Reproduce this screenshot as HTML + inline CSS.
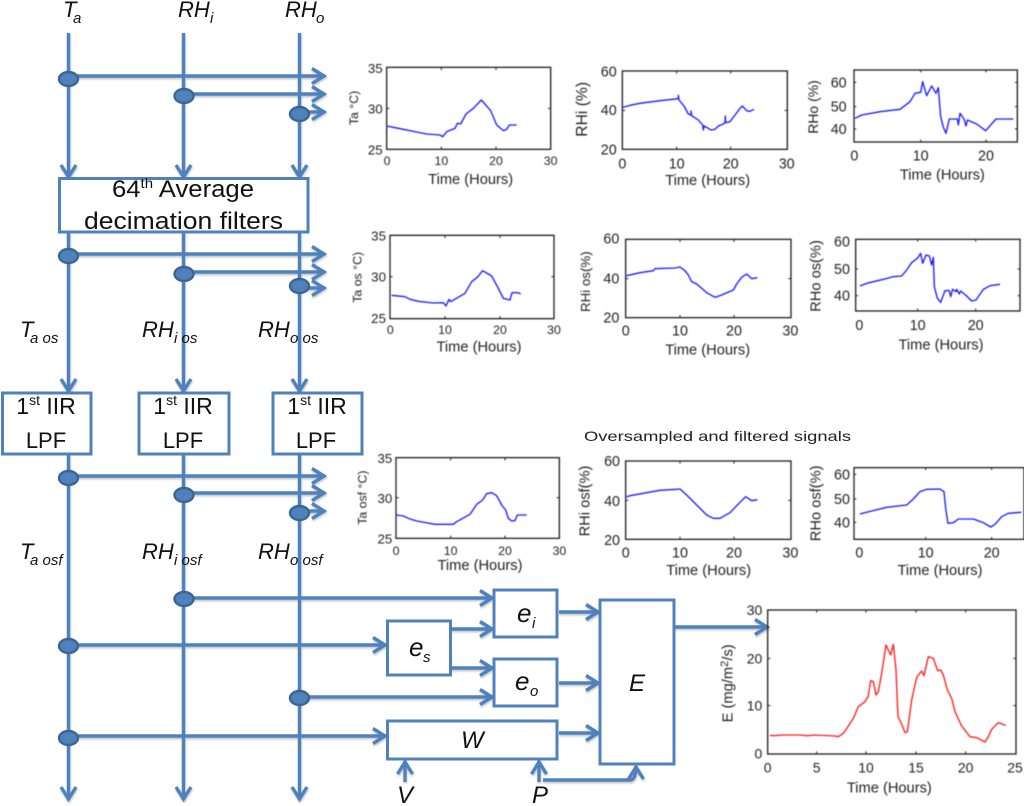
<!DOCTYPE html>
<html><head><meta charset="utf-8">
<style>
html,body{margin:0;padding:0;background:#fff}
svg{display:block}
.t{font-family:"Liberation Sans",sans-serif;font-size:40px;fill:#23232b}
.x{font-size:44px}
.m{text-anchor:middle}.e{text-anchor:end}
.ax{fill:none;stroke:#222;stroke-width:4}
.tk{fill:none;stroke:#222;stroke-width:3}
.b{fill:none;stroke:#1a1aff;stroke-width:4;stroke-linejoin:round}
.r{fill:none;stroke:#ff1a1a;stroke-width:4;stroke-linejoin:round}
.l{fill:none;stroke:#4f81bd;stroke-width:3.4}
.bx{fill:#fff;stroke:#4f81bd;stroke-width:3}
.n{fill:#4f81bd;stroke:#3c6593;stroke-width:2.4}
.i{font-family:"Liberation Sans",sans-serif;font-style:italic;fill:#111;font-size:22px}
.s{font-family:"Liberation Sans",sans-serif;font-style:italic;fill:#111;font-size:15px}
.c{font-family:"Liberation Sans",sans-serif;fill:#111;text-anchor:middle}
</style></head><body>
<svg xmlns="http://www.w3.org/2000/svg" width="1024" height="806" viewBox="0 0 1024 806">
<defs>
<marker id="a" viewBox="-16 -10 18 20" refX="0" refY="0" markerWidth="18" markerHeight="20" markerUnits="userSpaceOnUse" orient="auto"><path d="M-13,-7.5 L-1,0 L-13,7.5" fill="none" stroke="#4f81bd" stroke-width="3.4"/></marker>
<filter id="sh" x="-5%" y="-5%" width="110%" height="110%"><feDropShadow dx="0.5" dy="1.5" stdDeviation="1" flood-color="#000" flood-opacity=".25"/></filter>
<filter id="bl" x="-5%" y="-5%" width="110%" height="110%"><feGaussianBlur stdDeviation="0.4"/></filter>
</defs>

<!-- signal lines -->
<g filter="url(#sh)">
<line class="l" x1="68.5" y1="33" x2="68.5" y2="178" marker-end="url(#a)"/>
<line class="l" x1="183.5" y1="33" x2="183.5" y2="178" marker-end="url(#a)"/>
<line class="l" x1="299.5" y1="33" x2="299.5" y2="178" marker-end="url(#a)"/>
<line class="l" x1="68.5" y1="232" x2="68.5" y2="392" marker-end="url(#a)"/>
<line class="l" x1="183.5" y1="232" x2="183.5" y2="392" marker-end="url(#a)"/>
<line class="l" x1="299.5" y1="232" x2="299.5" y2="392" marker-end="url(#a)"/>
<line class="l" x1="68.5" y1="454" x2="68.5" y2="800" marker-end="url(#a)"/>
<line class="l" x1="183.5" y1="454" x2="183.5" y2="800" marker-end="url(#a)"/>
<line class="l" x1="299.5" y1="454" x2="299.5" y2="800" marker-end="url(#a)"/>
<line class="l" x1="68" y1="76" x2="325" y2="76" marker-end="url(#a)"/>
<line class="l" x1="184" y1="94" x2="325" y2="94" marker-end="url(#a)"/>
<line class="l" x1="299" y1="112" x2="325" y2="112" marker-end="url(#a)"/>
<line class="l" x1="68" y1="254" x2="325" y2="254" marker-end="url(#a)"/>
<line class="l" x1="184" y1="272" x2="325" y2="272" marker-end="url(#a)"/>
<line class="l" x1="299" y1="288" x2="325" y2="288" marker-end="url(#a)"/>
<line class="l" x1="68" y1="476" x2="325" y2="476" marker-end="url(#a)"/>
<line class="l" x1="184" y1="493" x2="325" y2="493" marker-end="url(#a)"/>
<line class="l" x1="299" y1="511" x2="325" y2="511" marker-end="url(#a)"/>
<line class="l" x1="184" y1="598" x2="493" y2="598" marker-end="url(#a)"/>
<line class="l" x1="68" y1="645" x2="386" y2="645" marker-end="url(#a)"/>
<line class="l" x1="299" y1="697" x2="493" y2="697" marker-end="url(#a)"/>
<line class="l" x1="68" y1="736" x2="386" y2="736" marker-end="url(#a)"/>
<line class="l" x1="450" y1="629" x2="493" y2="629" marker-end="url(#a)"/>
<line class="l" x1="450" y1="668" x2="493" y2="668" marker-end="url(#a)"/>
<line class="l" x1="559" y1="612" x2="599" y2="612" marker-end="url(#a)"/>
<line class="l" x1="559" y1="683" x2="599" y2="683" marker-end="url(#a)"/>
<line class="l" x1="559" y1="733" x2="599" y2="733" marker-end="url(#a)"/>
<line class="l" x1="673" y1="627" x2="768" y2="627" marker-end="url(#a)"/>
<line class="l" x1="405" y1="782" x2="405" y2="761" marker-end="url(#a)"/>
<line class="l" x1="539" y1="782" x2="539" y2="761" marker-end="url(#a)"/>
<path class="l" d="M543,780 H630 Q636,780 636,766" marker-end="url(#a)"/>
</g>

<!-- junction dots -->
<g>
<ellipse class="n" cx="68.5" cy="79" rx="9.5" ry="7"/><ellipse class="n" cx="184" cy="96" rx="9.5" ry="7"/><ellipse class="n" cx="299.5" cy="114" rx="9.5" ry="7"/>
<ellipse class="n" cx="68.5" cy="256" rx="9.5" ry="7"/><ellipse class="n" cx="184" cy="274" rx="9.5" ry="7"/><ellipse class="n" cx="299.5" cy="286" rx="9.5" ry="7"/>
<ellipse class="n" cx="68.5" cy="478" rx="9.5" ry="7"/><ellipse class="n" cx="184" cy="495" rx="9.5" ry="7"/><ellipse class="n" cx="299.5" cy="513" rx="9.5" ry="7"/>
<ellipse class="n" cx="184" cy="599" rx="9.5" ry="7"/><ellipse class="n" cx="68.5" cy="646" rx="9.5" ry="7"/><ellipse class="n" cx="299.5" cy="698" rx="9.5" ry="7"/><ellipse class="n" cx="68.5" cy="738" rx="9.5" ry="7"/>
</g>

<!-- boxes -->
<rect class="bx" x="59.5" y="178.5" width="248.5" height="53.5"/>
<rect class="bx" x="2.5" y="393" width="88.5" height="61"/>
<rect class="bx" x="139" y="393" width="90" height="61"/>
<rect class="bx" x="273" y="393" width="89" height="61"/>
<rect class="bx" x="387.5" y="621" width="63" height="54"/>
<rect class="bx" x="494" y="590" width="63" height="47"/>
<rect class="bx" x="494" y="659" width="63" height="47"/>
<rect class="bx" x="387.5" y="721" width="169.5" height="38"/>
<rect class="bx" x="600" y="600" width="74" height="164"/>

<!-- box text -->
<text class="c" x="183" y="197" font-size="24" textLength="142" lengthAdjust="spacingAndGlyphs">64<tspan font-size="14" dy="-9">th</tspan><tspan dy="9"> Average</tspan></text>
<text class="c" x="183.5" y="229" font-size="24" textLength="199" lengthAdjust="spacingAndGlyphs">decimation filters</text>
<text class="c" x="46" y="414" font-size="23">1<tspan font-size="14" dy="-9">st</tspan><tspan dy="9"> IIR</tspan></text>
<text class="c" x="46" y="448" font-size="22">LPF</text>
<text class="c" x="183" y="414" font-size="23">1<tspan font-size="14" dy="-9">st</tspan><tspan dy="9"> IIR</tspan></text>
<text class="c" x="183" y="448" font-size="22">LPF</text>
<text class="c" x="317" y="414" font-size="23">1<tspan font-size="14" dy="-9">st</tspan><tspan dy="9"> IIR</tspan></text>
<text class="c" x="316" y="448" font-size="22">LPF</text>

<!-- italic labels -->
<text class="i" x="63" y="17">T</text><text class="s" x="73" y="23">a</text>
<text class="i" x="178" y="17">RH</text><text class="s" x="210" y="23">i</text>
<text class="i" x="285" y="17">RH</text><text class="s" x="316" y="23">o</text>
<text class="i" x="20" y="337">T</text><text class="s" x="30" y="343">a os</text>
<text class="i" x="142" y="337">RH</text><text class="s" x="174" y="343">i os</text>
<text class="i" x="258" y="337">RH</text><text class="s" x="290" y="343">o os</text>
<text class="i" x="20" y="559">T</text><text class="s" x="30" y="565">a osf</text>
<text class="i" x="142" y="559">RH</text><text class="s" x="174" y="565">i osf</text>
<text class="i" x="258" y="559">RH</text><text class="s" x="290" y="565">o osf</text>
<text class="i" x="517" y="622" style="font-size:26px">e</text><text class="s" x="532" y="628">i</text>
<text class="i" x="409" y="656" style="font-size:26px">e</text><text class="s" x="423" y="662">s</text>
<text class="i" x="515" y="690" style="font-size:26px">e</text><text class="s" x="530" y="696">o</text>
<text class="i" x="461" y="748" style="font-size:24px">W</text>
<text class="i" x="629" y="691" style="font-size:24px">E</text>
<text class="i" x="397" y="803" style="font-size:24px">V</text>
<text class="i" x="532" y="803" style="font-size:24px">P</text>

<text x="584" y="441" font-family="Liberation Sans,sans-serif" font-size="14" fill="#222" textLength="267" lengthAdjust="spacingAndGlyphs">Oversampled and filtered signals</text>

<g filter="url(#bl)">
<!-- ROW 1 -->
<g transform="translate(340,50) scale(.33333)">
<rect class="ax" x="140" y="52" width="492" height="246"/>
<path class="tk" d="M304,298v-8M468,298v-8M304,52v8M468,52v8M140,175h8M632,175h-8"/>
<polyline class="b" points="140,228 160,232 190,238 230,246 260,252 300,255 308,260 320,245 345,235 352,220 362,222 378,192 400,175 424,150 452,182 470,225 490,242 500,238 508,225 530,225"/>
<text class="t e" x="128" y="69">35</text><text class="t e" x="128" y="191">30</text><text class="t e" x="128" y="314">25</text>
<text class="t m" x="141" y="345" style="font-size:37px">0</text><text class="t m" x="304" y="345" style="font-size:37px">10</text><text class="t m" x="468" y="345" style="font-size:37px">20</text><text class="t m" x="632" y="345" style="font-size:37px">30</text>
<text class="t m x" x="392" y="402">Time (Hours)</text>
<text class="t m" transform="translate(54,174) rotate(-90)" style="font-size:37px">Ta °C)</text>
</g>
<g transform="translate(680,50) scale(.33333)">
<rect class="ax" x="-173" y="63" width="495" height="235"/>
<path class="tk" d="M-10,298v-8M152,298v-8M-10,63v8M152,63v8M-173,181h8M322,181h-8"/>
<polyline class="b" points="-173,172 -150,166 -120,160 -60,152 -5,146 -5,136 -3,150 12,168 25,192 33,195 33,183 35,197 55,210 68,225 70,240 72,228 85,235 92,240 105,238 115,228 130,222 135,218 136,198 137,218 150,215 165,195 180,175 187,168 200,182 210,184 222,178"/>
<text class="t e" x="-190" y="80" style="font-size:43px">60</text><text class="t e" x="-190" y="195" style="font-size:43px">40</text><text class="t e" x="-190" y="313" style="font-size:43px">20</text>
<text class="t m" x="-173" y="355" style="font-size:43px">0</text><text class="t m" x="-10" y="355" style="font-size:43px">10</text><text class="t m" x="152" y="355" style="font-size:43px">20</text><text class="t m" x="320" y="355" style="font-size:43px">30</text>
<text class="t m x" x="83" y="405">Time (Hours)</text>
<text class="t m" transform="translate(-279,178) rotate(-90)" style="font-size:47px">RHi (%)</text>
<!-- RHo -->
<rect class="ax" x="522" y="60" width="490" height="216"/>
<path class="tk" d="M722,276v-7M918,276v-7M722,60v7M918,60v7M522,97h7M522,170h7M522,237h7M1012,97h-7M1012,170h-7M1012,237h-7"/>
<polyline class="b" points="525,205 545,195 600,185 660,178 690,155 705,130 722,127 728,95 740,137 755,108 768,130 775,113 782,200 790,232 798,250 808,207 832,207 835,225 840,190 852,207 858,228 862,210 890,222 917,242 948,207 1000,207"/>
<text class="t e" x="500" y="112" style="font-size:43px">60</text><text class="t e" x="500" y="185" style="font-size:43px">50</text><text class="t e" x="500" y="252" style="font-size:43px">40</text>
<text class="t m" x="523" y="332" style="font-size:43px">0</text><text class="t m" x="722" y="332" style="font-size:43px">10</text><text class="t m" x="918" y="332" style="font-size:43px">20</text>
<text class="t m x" x="787" y="388">Time (Hours)</text>
<text class="t m" transform="translate(414,171) rotate(-90)" style="font-size:42px">RHo (%)</text>
</g>

<!-- ROW 2 -->
<g transform="translate(340,220) scale(.33333)">
<rect class="ax" x="150" y="46" width="492" height="250"/>
<path class="tk" d="M315,296v-8M480,296v-8M315,46v8M480,46v8M150,170h8M642,170h-8"/>
<polyline class="b" points="155,226 195,230 210,238 235,244 280,249 310,248 318,258 327,238 332,245 375,220 395,185 412,172 428,152 455,168 475,205 490,235 510,240 516,218 535,218 542,222"/>
<text class="t e" x="138" y="62">35</text><text class="t e" x="138" y="184">30</text><text class="t e" x="138" y="309">25</text>
<text class="t m" x="151" y="342" style="font-size:37px">0</text><text class="t m" x="315" y="342" style="font-size:37px">10</text><text class="t m" x="480" y="342" style="font-size:37px">20</text><text class="t m" x="642" y="342" style="font-size:37px">30</text>
<text class="t m x" x="417" y="395">Time (Hours)</text>
<text class="t m" transform="translate(64,172) rotate(-90)" style="font-size:37px">Ta os °C)</text>
</g>
<g transform="translate(680,220) scale(.33333)">
<rect class="ax" x="-163" y="58" width="496" height="235"/>
<path class="tk" d="M0,293v-8M162,293v-8M0,58v8M162,58v8M-163,176h8M333,176h-8"/>
<polyline class="b" points="-160,167 -120,158 -80,152 -75,146 -15,144 0,141 15,152 25,165 35,185 50,192 80,218 105,232 125,225 160,210 170,192 185,172 200,162 215,176 232,173"/>
<text class="t e" x="-182" y="70" style="font-size:43px">60</text><text class="t e" x="-182" y="190" style="font-size:43px">40</text><text class="t e" x="-182" y="307" style="font-size:43px">20</text>
<text class="t m" x="-163" y="347" style="font-size:43px">0</text><text class="t m" x="0" y="347" style="font-size:43px">10</text><text class="t m" x="162" y="347" style="font-size:43px">20</text><text class="t m" x="331" y="347" style="font-size:43px">30</text>
<text class="t m x" x="83" y="403">Time (Hours)</text>
<text class="t m" transform="translate(-270,185) rotate(-90)" style="font-size:40px">RHi os(%)</text>
<!-- RHo os -->
<rect class="ax" x="527" y="58" width="493" height="215"/>
<path class="tk" d="M713,273v-7M887,273v-7M713,58v7M887,58v7M527,147h7M527,227h7M1020,147h-7M1020,227h-7"/>
<polyline class="b" points="540,198 560,190 610,178 640,170 665,168 680,150 695,128 712,115 722,100 728,130 738,105 748,108 755,135 760,112 763,200 772,235 782,247 795,212 808,212 812,230 818,208 828,215 830,208 838,222 842,213 860,228 875,243 888,240 910,208 930,197 960,193"/>
<text class="t e" x="510" y="80" style="font-size:43px">60</text><text class="t e" x="510" y="162" style="font-size:43px">50</text><text class="t e" x="510" y="242" style="font-size:43px">40</text>
<text class="t m" x="538" y="330" style="font-size:43px">0</text><text class="t m" x="713" y="330" style="font-size:43px">10</text><text class="t m" x="887" y="330" style="font-size:43px">20</text>
<text class="t m x" x="783" y="388">Time (Hours)</text>
<text class="t m" transform="translate(422,168) rotate(-90)" style="font-size:44px">RHo os(%)</text>
</g>

<!-- ROW 3 -->
<g transform="translate(340,425) scale(.33333)">
<rect class="ax" x="168" y="98" width="490" height="242"/>
<path class="tk" d="M332,340v-8M495,340v-8M332,98v8M495,98v8M168,218h8M658,218h-8"/>
<polyline class="b" points="168,270 190,273 205,280 230,288 285,298 340,298 350,290 390,268 410,238 428,225 440,206 455,203 470,212 485,240 497,255 505,280 515,288 525,287 532,270 560,270"/>
<text class="t e" x="157" y="114">35</text><text class="t e" x="157" y="234">30</text><text class="t e" x="157" y="356">25</text>
<text class="t m" x="168" y="390" style="font-size:37px">0</text><text class="t m" x="332" y="390" style="font-size:37px">10</text><text class="t m" x="495" y="390" style="font-size:37px">20</text><text class="t m" x="658" y="390" style="font-size:37px">30</text>
<text class="t m x" x="420" y="435">Time (Hours)</text>
<text class="t m" transform="translate(80,218) rotate(-90)" style="font-size:37px">Ta osf °C)</text>
</g>
<g transform="translate(680,425) scale(.33333)">
<rect class="ax" x="-163" y="108" width="496" height="235"/>
<path class="tk" d="M0,343v-8M162,343v-8M0,108v8M162,108v8M-163,226h8M333,226h-8"/>
<polyline class="b" points="-160,216 -150,212 -100,203 -60,196 -10,193 0,192 20,210 50,240 80,270 100,280 120,280 150,263 180,232 197,215 215,227 232,224"/>
<text class="t e" x="-180" y="123" style="font-size:43px">60</text><text class="t e" x="-180" y="243" style="font-size:43px">40</text><text class="t e" x="-180" y="360" style="font-size:43px">20</text>
<text class="t m" x="-163" y="397" style="font-size:43px">0</text><text class="t m" x="0" y="397" style="font-size:43px">10</text><text class="t m" x="162" y="397" style="font-size:43px">20</text><text class="t m" x="331" y="397" style="font-size:43px">30</text>
<text class="t m x" x="86" y="450">Time (Hours)</text>
<text class="t m" transform="translate(-272,228) rotate(-90)" style="font-size:44px">RHi osf(%)</text>
<!-- RHo osf -->
<rect class="ax" x="522" y="128" width="510" height="215"/>
<path class="tk" d="M737,343v-7M935,343v-7M737,128v7M935,128v7M522,148h7M522,222h7M522,292h7"/>
<polyline class="b" points="540,267 575,258 620,247 680,240 700,222 720,200 740,193 780,192 792,200 797,250 804,295 820,293 835,282 880,282 910,293 932,306 945,298 965,275 985,265 1024,262"/>
<text class="t e" x="510" y="163" style="font-size:43px">60</text><text class="t e" x="510" y="237" style="font-size:43px">50</text><text class="t e" x="510" y="307" style="font-size:43px">40</text>
<text class="t m" x="538" y="397" style="font-size:43px">0</text><text class="t m" x="737" y="397" style="font-size:43px">10</text><text class="t m" x="935" y="397" style="font-size:43px">20</text>
<text class="t m x" x="780" y="450">Time (Hours)</text>
<text class="t m" transform="translate(422,235) rotate(-90)" style="font-size:44px">RHo osf(%)</text>
</g>

<!-- E -->
<g transform="translate(700,590) scale(.33333)">
<rect class="ax" x="203" y="60" width="745" height="432"/>
<path class="tk" d="M350,492v-8M498,492v-8M648,492v-8M797,492v-8M350,60v8M498,60v8M648,60v8M797,60v8M203,205h8M203,347h8M948,205h-8M948,347h-8"/>
<polyline class="r" points="210,436 220,437 250,435 300,435 320,437 345,435 405,438 415,440 430,430 445,408 460,385 475,350 495,335 505,318 512,272 520,275 528,315 535,305 545,250 558,165 572,195 580,163 588,240 594,380 605,402 615,428 622,426 635,330 650,262 665,243 672,257 685,200 700,205 713,242 722,240 730,255 742,300 755,325 765,365 785,408 810,440 830,443 855,456 865,440 875,418 895,398 917,406"/>
<text class="t e" x="187" y="75" style="font-size:42px">30</text><text class="t e" x="187" y="220" style="font-size:42px">20</text><text class="t e" x="187" y="362" style="font-size:42px">10</text><text class="t e" x="187" y="505" style="font-size:42px">0</text>
<text class="t m" x="203" y="547" style="font-size:42px">0</text><text class="t m" x="350" y="547" style="font-size:42px">5</text><text class="t m" x="498" y="547" style="font-size:42px">10</text><text class="t m" x="648" y="547" style="font-size:42px">15</text><text class="t m" x="797" y="547" style="font-size:42px">20</text><text class="t m" x="945" y="547" style="font-size:42px">25</text>
<text class="t m x" x="568" y="608">Time (Hours)</text>
<text class="t m" transform="translate(98,280) rotate(-90)" style="font-size:44px">E (mg/m<tspan dy="-14" style="font-size:34px">2</tspan><tspan dy="14">/s)</tspan></text>
</g>
</g>
</svg>
</body></html>
